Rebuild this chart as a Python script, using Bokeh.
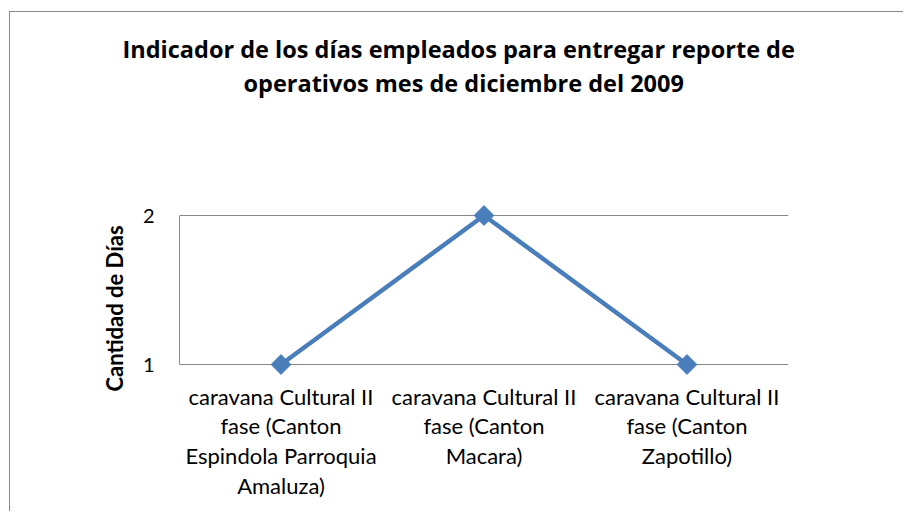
from bokeh.plotting import figure
from bokeh.embed import file_html
from bokeh.resources import INLINE
from bokeh.models import Range1d, FixedTicker, Title
import numpy as np

categories = [
    "caravana Cultural II\nfase (Canton\nEspindola Parroquia\nAmaluza)",
    "caravana Cultural II\nfase (Canton\nMacara)",
    "caravana Cultural II\nfase (Canton\nZapotillo)",
]
dias = [1, 2, 1]
y_ticks = [1, 2]
title_lines = ["Indicador de los días empleados para entregar reporte de",
               "operativos mes de diciembre del 2009"]
y_title = "Cantidad de Días"

FONT = "Lato"
TFONT = "Open Sans"
GRAY = "#878787"
BLUE = "#4A7EBB"

W, H = 894, 500
# frame is 408px tall; values 1..2 occupy 149px of it
Y0, Y1 = 1 - 148 / 149, 2 + 111 / 149
p = figure(width=W, height=H, output_backend="svg", toolbar_location=None,
           x_range=Range1d(0, len(categories)), y_range=Range1d(Y0, Y1),
           min_border_left=169, min_border_right=116, min_border_top=92,
           min_border_bottom=0)
p.styles = {"margin-left": "9px", "margin-top": "11px",
            "border-left": f"1px solid {GRAY}", "border-top": f"1px solid {GRAY}"}
p.outline_line_color = None
p.background_fill_color = None
p.xgrid.grid_line_color = None
p.ygrid.grid_line_color = GRAY
p.ygrid.ticker = FixedTicker(ticks=y_ticks)


def make_title(txt, off, so):
    kw = dict(text=txt, align="left", offset=off, vertical_align="bottom",
              text_font=TFONT, text_font_style="bold", text_font_size="23.5px",
              text_color="black")
    try:
        return Title(standoff=so, **kw)
    except Exception:
        return Title(standoff=0, **kw)


p.title.text = ""
p.add_layout(make_title(title_lines[1], 64, 12), "above")
p.add_layout(make_title(title_lines[0], -57, -12), "above")

xs = [i + 0.5 for i in range(len(categories))]
p.line(xs, dias, line_color=BLUE, line_width=4.5)
p.scatter(xs, dias, marker="square", angle=np.pi / 4, size=14,
          fill_color=BLUE, line_color=BLUE)

xa = p.xaxis[0]
xa.fixed_location = min(y_ticks)
xa.ticker = FixedTicker(ticks=xs)
xa.major_label_overrides = {x: c for x, c in zip(xs, categories)}
xa.major_label_text_font = FONT
xa.major_label_text_font_size = "22px"
xa.major_label_text_color = "black"
xa.major_label_text_line_height = 1.1
xa.major_label_standoff = 12
xa.major_tick_line_color = None
xa.minor_tick_line_color = None
xa.axis_line_color = None

ya = p.yaxis[0]
ya.ticker = FixedTicker(ticks=y_ticks)
ya.bounds = (min(y_ticks), max(y_ticks))
ya.major_label_text_font = FONT
ya.major_label_text_font_size = "20px"
ya.major_label_text_color = "black"
ya.major_label_standoff = 19
ya.major_tick_line_color = None
ya.minor_tick_line_color = None
ya.axis_line_color = GRAY
ya.axis_label = y_title
ya.axis_label_text_font = FONT
ya.axis_label_text_font_style = "bold"
ya.axis_label_text_font_size = "22px"
ya.axis_label_text_color = "black"
ya.axis_label_standoff = 12

open("out.html", "w").write(file_html(p, INLINE))
